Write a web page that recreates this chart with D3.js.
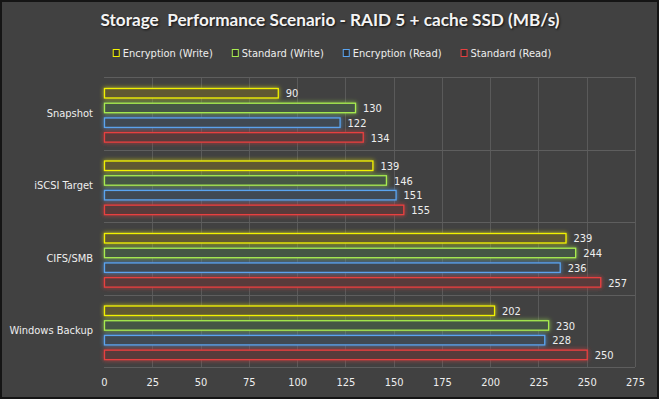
<!DOCTYPE html>
<html>
<head>
<meta charset="utf-8">
<script src="https://cdn.jsdelivr.net/npm/d3@7"></script>
<style>
  body { margin: 0; background: #404040; }
  svg { display: block; }
</style>
</head>
<body>
<div id="chart"></div>
<script>
// --- data ---
const categories = ["Snapshot", "iSCSI Target", "CIFS/SMB", "Windows Backup"];
const seriesNames = ["Encryption (Write)", "Standard (Write)", "Encryption (Read)", "Standard (Read)"];
const encWrite = [90, 139, 239, 202];
const stdWrite = [130, 146, 244, 230];
const encRead = [122, 151, 236, 228];
const stdRead = [134, 155, 257, 250];
const xTicks = [0, 25, 50, 75, 100, 125, 150, 175, 200, 225, 250, 275];

const seriesValues = [encWrite, stdWrite, encRead, stdRead];
const strokes = ["#f2f200", "#a8ec50", "#5aa4f0", "#e84040"];
const fills = ["#5e5932", "#445744", "#414952", "#593a3a"];

const width = 659, height = 399;
const margin = { top: 77, right: 24, bottom: 32, left: 104 };
const labelFont = "'DejaVu Sans Condensed', 'DejaVu Sans', sans-serif";

const svg = d3.select("#chart").append("svg")
  .attr("width", width)
  .attr("height", height);

// glow filter per series
const defs = svg.append("defs");
strokes.forEach((c, i) => {
  const f = defs.append("filter").attr("id", "glow" + i)
    .attr("x", "-10%").attr("y", "-60%").attr("width", "120%").attr("height", "220%");
  f.append("feGaussianBlur").attr("in", "SourceGraphic").attr("stdDeviation", 2).attr("result", "blur");
  const m = f.append("feMerge");
  m.append("feMergeNode").attr("in", "blur");
  m.append("feMergeNode").attr("in", "SourceGraphic");
});

svg.append("rect")
  .attr("x", 1).attr("y", 1)
  .attr("width", width - 2).attr("height", height - 2)
  .attr("fill", "#414141")
  .attr("stroke", "#151515")
  .attr("stroke-width", 2);

// title
svg.append("text")
  .attr("x", 330)
  .attr("y", 26)
  .attr("text-anchor", "middle")
  .attr("font-family", "Lato, 'Open Sans', sans-serif")
  .attr("font-weight", "bold")
  .attr("font-size", "17.2px")
  .attr("fill", "#f4f4f4")
  .style("text-shadow", "1px 1px 2px #111")
  .attr("xml:space", "preserve")
  .text("Storage  Performance Scenario - RAID 5 + cache SSD (MB/s)");

// scales
const x = d3.scaleLinear().domain([0, 275]).range([margin.left, width - margin.right]);
const y = d3.scaleBand().domain(categories).range([margin.top, height - margin.bottom]);

// grid
const grid = svg.append("g");
grid.selectAll("line.v")
  .data(xTicks)
  .join("line")
  .attr("class", "v")
  .attr("x1", d => Math.round(x(d)) + 0.5)
  .attr("x2", d => Math.round(x(d)) + 0.5)
  .attr("y1", margin.top)
  .attr("y2", height - margin.bottom)
  .attr("stroke", d => d === 0 ? "none" : "#5a5a5a");

grid.selectAll("line.h")
  .data(categories.concat(["end"]))
  .join("line")
  .attr("class", "h")
  .attr("x1", margin.left)
  .attr("x2", width - margin.right)
  .attr("y1", d => Math.round(d === "end" ? height - margin.bottom : y(d)) + 0.5)
  .attr("y2", d => Math.round(d === "end" ? height - margin.bottom : y(d)) + 0.5)
  .attr("stroke", "#5e5e5e");

// x axis labels
const xAxis = svg.append("g")
  .attr("transform", `translate(0,${height - margin.bottom})`)
  .call(d3.axisBottom(x).tickValues(xTicks).tickSize(0).tickPadding(11));
xAxis.select(".domain").remove();
xAxis.selectAll("text")
  .attr("fill", "#eeeeee")
  .attr("font-family", labelFont)
  .attr("font-size", "11px");

// y axis labels
const yAxis = svg.append("g")
  .attr("transform", `translate(${margin.left},0)`)
  .call(d3.axisLeft(y).tickSize(0).tickPadding(11));
yAxis.select(".domain").remove();
yAxis.selectAll("text")
  .attr("fill", "#eeeeee")
  .attr("font-family", labelFont)
  .attr("font-size", "11px");

// bars
const inner = d3.scaleBand()
  .domain(d3.range(seriesNames.length))
  .range([y.bandwidth() * 0.152, y.bandwidth() * 0.905])
  .paddingInner(0.29);

const groups = svg.selectAll("g.cat")
  .data(categories)
  .join("g")
  .attr("class", "cat")
  .attr("transform", d => `translate(0,${y(d)})`);

groups.each(function (cat, ci) {
  const g = d3.select(this);
  seriesValues.forEach((vals, si) => {
    const v = vals[ci];
    g.append("rect")
      .attr("x", x(0) + 0.5)
      .attr("y", inner(si) + 0.5)
      .attr("width", x(v) - x(0))
      .attr("height", inner.bandwidth() - 1)
      .attr("fill", fills[si])
      .attr("stroke", strokes[si])
      .attr("stroke-width", 1.3)
      .attr("filter", `url(#glow${si})`);
    g.append("text")
      .attr("x", x(v) + 8)
      .attr("y", inner(si) + inner.bandwidth() / 2)
      .attr("dy", "0.38em")
      .attr("fill", "#eeeeee")
      .attr("font-family", labelFont)
      .attr("font-size", "11px")
      .text(v);
  });
});

// legend
const legend = svg.append("g").attr("transform", "translate(0,53)");
const items = legend.selectAll("g")
  .data(seriesNames)
  .join("g");
items.append("rect")
  .attr("x", 0.5).attr("y", -3.5)
  .attr("width", 6).attr("height", 7)
  .attr("fill", "#2e2e2e")
  .attr("stroke", (d, i) => strokes[i]);
items.append("text")
  .attr("x", 10)
  .attr("dy", "0.36em")
  .attr("fill", "#eeeeee")
  .attr("font-family", labelFont)
  .attr("font-size", "11px")
  .text(d => d);
let offsets = [], cursor = 0;
items.each(function () {
  offsets.push(cursor);
  cursor += 10 + this.querySelector("text").getComputedTextLength() + 19;
});
const total = cursor - 19;
const start = 332 - total / 2;
items.attr("transform", (d, i) => `translate(${start + offsets[i]},0)`);
</script>
</body>
</html>
